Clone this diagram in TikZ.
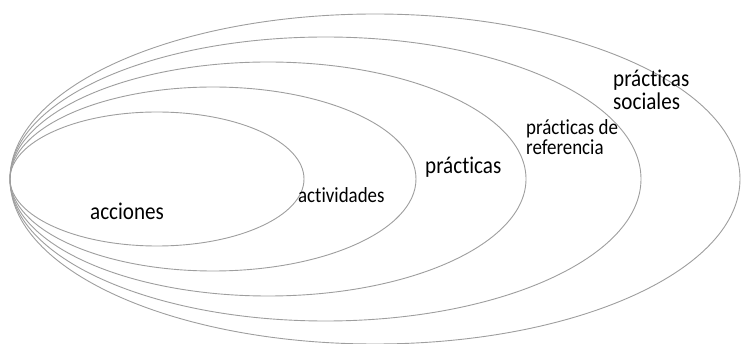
\documentclass[tikz,border=0pt]{standalone}
\usepackage{fontspec}
\newfontfamily\lblfont[Ligatures=NoCommon]{Carlito}
\usepackage{tikz}
\usetikzlibrary{positioning}

\begin{document}
\begin{tikzpicture}[x=1pt, y=-1pt,
    ring/.style={draw=black!38, line width=0.9pt},
    big_label/.style={font=\lblfont\fontsize{24}{23}\selectfont, inner sep=0pt,
      anchor=base west, align=left, xscale=0.88, transform shape},
    small_label/.style={font=\lblfont\fontsize{21.5}{20}\selectfont, inner sep=0pt,
      anchor=base west, align=left, xscale=0.88, transform shape}
  ]
  \useasboundingbox (0,0) rectangle (741,344);

  % --- Centres of the nested ellipses ---
  \coordinate (C1) at (157, 179);
  \coordinate (C2) at (213, 179);
  \coordinate (C3) at (268, 179);
  \coordinate (C4) at (325.5, 179);
  \coordinate (C5) at (375, 179);

  % --- Ellipses (all touching at the left) ---
  \draw[ring] (C1) ellipse [x radius=147, y radius=67];
  \draw[ring] (C2) ellipse [x radius=203, y radius=92];
  \draw[ring] (C3) ellipse [x radius=258, y radius=117];
  \draw[ring] (C4) ellipse [x radius=315.5, y radius=142];
  \draw[ring] (C5) ellipse [x radius=365, y radius=165];

  % --- Labels (two-line labels sit on their last line) ---
  \node[big_label] (acciones) at (90, 220) {acciones};
  \node[small_label] (actividades) at (298, 203) {actividades};
  \node[big_label] (practicas) at (425, 174) {prácticas};
  \node[small_label] (referencia) at (526, 155) {prácticas de\\referencia};
  \node[big_label] (sociales) at (613, 110) {prácticas\\sociales};
\end{tikzpicture}
\end{document}
